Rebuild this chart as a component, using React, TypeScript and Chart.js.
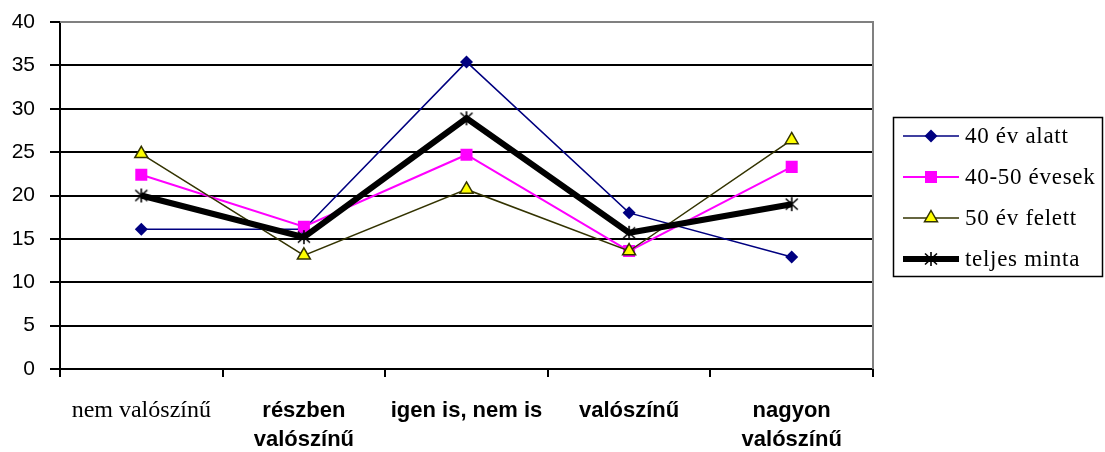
import React, { useEffect, useRef } from "react";
import { Chart, registerables } from "chart.js";

Chart.register(...registerables);

// ---- data ----
const categories: (string | string[])[] = [
  "nem valószínű",
  ["részben", "valószínű"],
  "igen is, nem is",
  "valószínű",
  ["nagyon", "valószínű"],
];
const seriesNames = ["40 év alatt", "40-50 évesek", "50 év felett", "teljes minta"];
const under40 = [16.1, 16.1, 35.4, 18.0, 12.9];
const from40to50 = [22.4, 16.4, 24.7, 13.6, 23.3];
const over50 = [24.8, 13.1, 20.7, 13.6, 26.4];
const total = [20.0, 15.2, 28.9, 15.7, 19.0];
const yMin = 0;
const yMax = 40;
const yStep = 5;

const NAVY = "#000080";
const MAGENTA = "#FF00FF";
const OLIVE = "#333300";
const YELLOW = "#FFFF00";

function makeStar(): HTMLCanvasElement {
  const c = document.createElement("canvas");
  c.width = 16;
  c.height = 16;
  const g = c.getContext("2d")!;
  g.strokeStyle = "#000";
  g.lineWidth = 1.6;
  g.beginPath();
  g.moveTo(2, 2.5);
  g.lineTo(14, 13.5);
  g.moveTo(14, 2.5);
  g.lineTo(2, 13.5);
  g.moveTo(8, 1);
  g.lineTo(8, 15);
  g.stroke();
  return c;
}

function drawMarker(ctx: CanvasRenderingContext2D, kind: number, x: number, y: number, star: HTMLCanvasElement) {
  ctx.save();
  if (kind === 0) {
    const r = 6.5;
    ctx.fillStyle = NAVY;
    ctx.beginPath();
    ctx.moveTo(x, y - r);
    ctx.lineTo(x + r, y);
    ctx.lineTo(x, y + r);
    ctx.lineTo(x - r, y);
    ctx.closePath();
    ctx.fill();
  } else if (kind === 1) {
    ctx.fillStyle = MAGENTA;
    ctx.fillRect(x - 6, y - 6, 12, 12);
  } else if (kind === 2) {
    const r = 7.5;
    ctx.fillStyle = YELLOW;
    ctx.strokeStyle = OLIVE;
    ctx.lineWidth = 1.5;
    ctx.beginPath();
    ctx.moveTo(x, y - r);
    ctx.lineTo(x + r * 0.866, y + r / 2);
    ctx.lineTo(x - r * 0.866, y + r / 2);
    ctx.closePath();
    ctx.fill();
    ctx.stroke();
  } else {
    ctx.drawImage(star, x - star.width / 2, y - star.height / 2);
  }
  ctx.restore();
}

export default function App() {
  const ref = useRef<HTMLCanvasElement>(null);

  useEffect(() => {
    document.body.style.margin = "0";
    const star = makeStar();
    const lineColors = [NAVY, MAGENTA, OLIVE, "#000000"];
    const lineWidths = [1.5, 2, 1.5, 6];

    const framePlugin = {
      id: "frameAndLegend",
      beforeDatasetsDraw(chart: any) {
        const { ctx, chartArea: a } = chart;
        ctx.save();
        ctx.strokeStyle = "#808080";
        ctx.lineWidth = 2;
        ctx.beginPath();
        ctx.moveTo(a.left, a.top);
        ctx.lineTo(a.right, a.top);
        ctx.lineTo(a.right, a.bottom);
        ctx.stroke();
        ctx.restore();
      },
      afterDraw(chart: any) {
        const ctx: any = chart.ctx;
        ctx.save();
        ctx.strokeStyle = "#000";
        ctx.lineWidth = 1.5;
        ctx.strokeRect(893.5, 117.5, 209, 159);
        const ys = [136, 177, 218, 259];
        seriesNames.forEach((name, i) => {
          const y = ys[i];
          ctx.strokeStyle = lineColors[i];
          ctx.lineWidth = lineWidths[i];
          ctx.beginPath();
          ctx.moveTo(903, y);
          ctx.lineTo(959, y);
          ctx.stroke();
          drawMarker(ctx, i, 931, y, star);
          ctx.fillStyle = "#000";
          ctx.font = '23px "Liberation Serif", "Times New Roman", serif';
          ctx.textBaseline = "middle";
          ctx.textAlign = "left";
          ctx.letterSpacing = "0.7px";
          ctx.fillText(name, 965, y + 1);
          ctx.letterSpacing = "0px";
        });
        ctx.restore();
      },
    };

    const chart = new Chart(ref.current!, {
      type: "line",
      data: {
        labels: categories,
        datasets: [
          {
            label: seriesNames[0],
            data: under40,
            borderColor: NAVY,
            borderWidth: 1.5,
            pointStyle: "rectRot",
            pointRadius: 6.5,
            pointBackgroundColor: NAVY,
            pointBorderColor: NAVY,
            pointBorderWidth: 0,
            order: 4,
          },
          {
            label: seriesNames[1],
            data: from40to50,
            borderColor: MAGENTA,
            borderWidth: 2,
            pointStyle: "rect",
            pointRadius: 8.5,
            pointBackgroundColor: MAGENTA,
            pointBorderColor: MAGENTA,
            pointBorderWidth: 0,
            order: 3,
          },
          {
            label: seriesNames[2],
            data: over50,
            borderColor: OLIVE,
            borderWidth: 1.5,
            pointStyle: "triangle",
            pointRadius: 7.5,
            pointBackgroundColor: YELLOW,
            pointBorderColor: OLIVE,
            pointBorderWidth: 1.5,
            order: 2,
          },
          {
            label: seriesNames[3],
            data: total,
            borderColor: "#000000",
            borderWidth: 6,
            pointStyle: star as any,
            pointRadius: 8,
            order: 1,
          },
        ],
      },
      options: {
        responsive: false,
        animation: false,
        events: [],
        layout: { padding: { top: 22, right: 232, left: 0, bottom: 0 } },
        elements: { line: { tension: 0 } },
        plugins: {
          legend: { display: false },
          tooltip: { enabled: false },
        },
        scales: {
          x: {
            type: "category",
            offset: true,
            grid: {
              offset: true,
              drawOnChartArea: false,
              drawTicks: true,
              tickLength: 8,
              color: "#000",
              lineWidth: 2,
            },
            border: { display: true, color: "#000", width: 2 },
            ticks: {
              color: "#000",
              padding: 20,
              maxRotation: 0,
              autoSkip: false,
              font: (ctx: any) =>
                ctx.index === 0
                  ? { family: '"Liberation Serif", "Times New Roman", serif', size: 24, weight: "normal", lineHeight: 1.15 }
                  : { family: '"Liberation Sans", Arial, sans-serif', size: 22, weight: "bold", lineHeight: 1.3 },
            },
            afterFit: (s: any) => {
              s.height = 83;
              s.paddingLeft = 0;
              s.paddingRight = 0;
            },
          },
          y: {
            min: yMin,
            max: yMax,
            grid: {
              color: (ctx: any) => (ctx.tick && ctx.tick.value === yMax ? "#808080" : "#000"),
              tickColor: "#000",
              lineWidth: 2,
              tickLength: 10,
            },
            border: { display: true, color: "#000", width: 2 },
            ticks: {
              stepSize: yStep,
              color: "#000",
              padding: 15,
              font: { family: '"Liberation Sans", Arial, sans-serif', size: 21 },
            },
            afterFit: (s: any) => {
              s.width = 60;
              s.paddingTop = 0;
              s.paddingBottom = 0;
            },
          },
        },
      },
      plugins: [framePlugin],
    });
    return () => chart.destroy();
  }, []);

  return (
    <div style={{ width: 1105, height: 452 }}>
      <canvas ref={ref} width={1105} height={452} style={{ display: "block" }} />
    </div>
  );
}
